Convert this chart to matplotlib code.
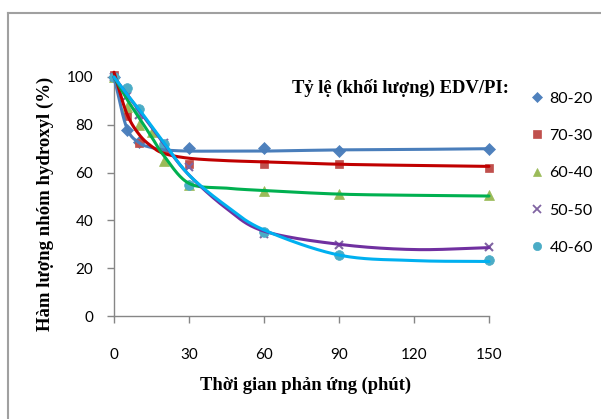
import numpy as np
import matplotlib.pyplot as plt
from matplotlib.lines import Line2D

# Measured points (time in minutes, hydroxyl content in %)
t_pts = [0, 5, 10, 15, 20, 30, 60, 90, 150]
s80_20 = [100, 78, 73, None, 70, 70.5, 70.5, 69, 70]
s70_30 = [101, 83.5, 72.5, None, 70, 63.5, 63.5, 63.5, 62]
s60_40 = [100, 87.5, 80, 77, 65, 55, 52.5, 51, 50.5]
s50_50 = [100, 92, 84, None, 72.5, 62.5, 34.5, 29.5, 29]
s40_60 = [100, 95.5, 86.5, None, 72, 55, 35, 25.5, 23.5]

# Smoothed trend curves
t_fit = [0, 5, 10, 15, 20, 30, 45, 60, 90, 120, 150]
f80_20 = [100, 79, 72.5, 70.5, 69.5, 69, 69, 69, 69.5, 69.7, 70]
f70_30 = [102, 85, 76, 71, 68, 66, 65, 64.5, 63.5, 63, 62.6]
f60_40 = [100, 91, 83, 75, 67, 55.5, 53.5, 52.5, 51, 50.5, 50.2]
f50_50 = [100, 93, 86, 79, 72, 59, 45, 35.5, 30, 27.8, 28.6]
f40_60 = [100, 93, 86.5, 79.5, 72.5, 59, 46, 36, 25.5, 23.2, 22.8]

labels = ['80-20', '70-30', '60-40', '50-50', '40-60']
mk_colors = ['#4F81BD', '#C0504D', '#9BBB59', '#8064A2', '#4BACC6']
ln_colors = ['#4A7EBB', '#C00000', '#00B050', '#7030A0', '#00B0F0']
markers = ['D', 's', '^', 'x', 'o']
msizes = [6, 6, 7, 6, 7]


def smooth(x, y, n=30):
    # catmull-rom style smoothing like Excel's smoothed line
    x = np.asarray(x, float); y = np.asarray(y, float)
    px = np.concatenate([[2*x[0]-x[1]], x, [2*x[-1]-x[-2]]])
    py = np.concatenate([[2*y[0]-y[1]], y, [2*y[-1]-y[-2]]])
    xs, ys = [], []
    for i in range(1, len(px)-2):
        tt = np.linspace(0, 1, n)
        for arr, out in ((px, xs), (py, ys)):
            p0, p1, p2, p3 = arr[i-1], arr[i], arr[i+1], arr[i+2]
            m1 = (p2 - p0) / 6.0
            m2 = (p3 - p1) / 6.0
            b1 = p1 + m1; b2 = p2 - m2
            out.extend((1-tt)**3*p1 + 3*(1-tt)**2*tt*b1 + 3*(1-tt)*tt**2*b2 + tt**3*p2)
    return np.array(xs), np.array(ys)


fig = plt.figure(figsize=(6.01, 4.19), dpi=100)
ax = fig.add_axes([114/601, 1-316/419, 375/601, 239/419])

series = [s80_20, s70_30, s60_40, s50_50, s40_60]
fits = [f80_20, f70_30, f60_40, f50_50, f40_60]

for s, c, m, ms in zip(series, mk_colors, markers, msizes):
    xx = [t for t, v in zip(t_pts, s) if v is not None]
    yy = [v for v in s if v is not None]
    ax.plot(xx, yy, linestyle='none', marker=m, color=c, markersize=ms,
            markeredgewidth=1.5 if m == 'x' else 0.5, clip_on=False, zorder=2)

for f, c in zip(fits, ln_colors):
    xs, ys = smooth(t_fit, f)
    ax.plot(xs, ys, color=c, linewidth=2.2, clip_on=False, zorder=3, solid_capstyle='round')

ax.set_xlim(0, 150)
ax.set_ylim(0, 100)
ax.set_xticks(np.arange(0, 151, 30))
ax.set_yticks(np.arange(0, 101, 20))
for sp in ['top', 'right']:
    ax.spines[sp].set_visible(False)
for sp in ['left', 'bottom']:
    ax.spines[sp].set_color('#868686')
    ax.spines[sp].set_linewidth(1.0)
ax.tick_params(axis='both', direction='out', length=5, width=1, color='#868686',
               labelsize=11, labelcolor='black')
ax.tick_params(axis='y', pad=10)
ax.tick_params(axis='x', pad=18)
for lab in ax.get_xticklabels() + ax.get_yticklabels():
    lab.set_family('Lato')

serif = 'Liberation Serif'
fig.text(306/601, 1-385/419, 'Thời gian phản ứng (phút)', ha='center', va='center',
         fontsize=13.3, fontweight='bold', family=serif)
fig.text(45/601, 1-204/419, 'Hàm lượng nhóm hydroxyl (%)', ha='center', va='center',
         rotation=90, fontsize=13.5, fontweight='bold', family=serif)
fig.text(400/601, 1-88/419, 'Tỷ lệ (khối lượng) EDV/PI:', ha='center', va='center',
         fontsize=13.4, fontweight='bold', family=serif)

# legend
handles = [Line2D([], [], linestyle='none', marker=m, color=c, markersize=ms * 0.85,
                  markeredgewidth=1.3 if m == 'x' else 0.5)
           for m, c, ms in zip(markers, mk_colors, msizes)]
leg = fig.legend(handles, labels, loc='upper left', bbox_to_anchor=(516/601, 1-77/419),
                 frameon=False, prop={'family': 'Lato', 'size': 11.5},
                 handlelength=0.8, handletextpad=0.4, labelspacing=1.45)

# outer chart border (cropped on the right / bottom)
fig.add_artist(Line2D([8/601, 8/601], [0, 1-13/419], transform=fig.transFigure,
                      color='#A0A0A0', linewidth=1.5))
fig.add_artist(Line2D([8/601, 1], [1-13/419, 1-13/419], transform=fig.transFigure,
                      color='#A0A0A0', linewidth=1.5))

fig.savefig('out.png', dpi=100)
